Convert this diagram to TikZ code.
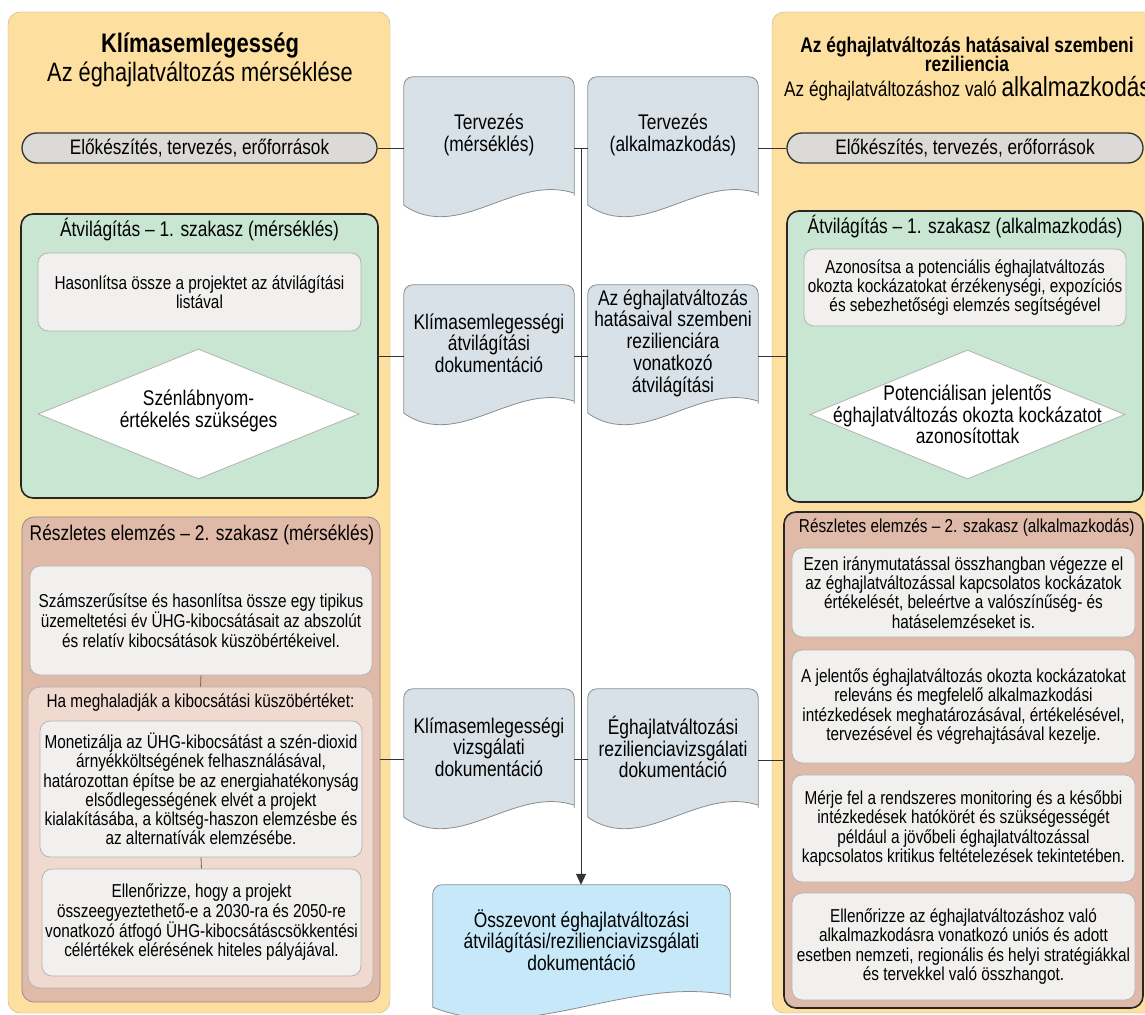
\documentclass[tikz,border=0pt]{standalone}
\usepackage{fontspec}
\setmainfont{Liberation Sans}[FakeStretch=0.82]
\usepackage{tikz}
\usetikzlibrary{arrows.meta,shapes.geometric}
\usetikzlibrary{backgrounds}

\definecolor{panelorange}{RGB}{253,223,160}
\definecolor{panelline}{RGB}{190,175,140}
\definecolor{pillgray}{RGB}{220,218,215}
\definecolor{screengreen}{RGB}{200,230,210}
\definecolor{boxgray}{RGB}{241,240,239}
\definecolor{detailred}{RGB}{224,186,168}
\definecolor{detailpink}{RGB}{240,218,208}
\definecolor{docblue}{RGB}{216,225,232}
\definecolor{finalblue}{RGB}{198,232,248}

\newcommand{\bodyfont}{\fontsize{18.7}{19.2}\selectfont}
\newcommand{\headfont}{\fontsize{21.2}{21.7}\selectfont}

\tikzset{
  panel/.style={draw=panelline, fill=panelorange, rounded corners=12},
  pill/.style={draw=black!80, line width=1.3, fill=pillgray, rounded corners=15,
    minimum height=30, inner sep=0, font=\fontsize{21}{21.5}\selectfont},
  greenbox/.style={draw=black!85, line width=1.6, fill=screengreen, rounded corners=12},
  redbox/.style={draw=black!45, line width=0.8, fill=detailred, rounded corners=12},
  pinkbox/.style={draw=black!30, line width=0.8, fill=detailpink, rounded corners=12},
  graybox/.style={draw=black!30, line width=0.8, fill=boxgray, rounded corners=10,
    align=center, inner sep=1, font=\bodyfont},
  decision/.style={diamond, draw=black!30, line width=0.8, fill=white, inner sep=0},
  doc/.style={align=center, inner sep=1, minimum width=170, minimum height=116, font=\headfont},
  docline/.style={draw=black!45, line width=0.8},
  conn/.style={draw=black!80, line width=1},
  headtxt/.style={align=center, inner sep=0, font=\headfont},
  bodytxt/.style={align=center, inner sep=0, font=\bodyfont},
}

\begin{document}
\begin{tikzpicture}[x=1pt, y=-1pt]

  \useasboundingbox (0,0) rectangle (1145,1014);

  % left column: mitigation
  \draw[panel] (8,12) rectangle (390,1013);
  \node[anchor=base, font=\bfseries\fontsize{26.8}{27}\selectfont] (titleL) at (200,53) {Klímasemlegesség};
  \node[anchor=base, font=\fontsize{26.6}{27}\selectfont] (subL) at (200,82) {Az éghajlatváltozás mérséklése};

  \node[pill, minimum width=355] (pillL) at (199.5,148) {Előkészítés, tervezés, erőforrások};

  \node[greenbox, minimum width=357, minimum height=284] (greenL) at (199.5,356) {};
  \node[headtxt] (greenLt) at (199.5,230) {Átvilágítás – 1. szakasz (mérséklés)};
  \node[graybox, minimum width=323, minimum height=78] (listL) at (199.5,292)
    {Hasonlítsa össze a projektet az átvilágítási\\listával};
  \node[decision, minimum width=321, minimum height=130] (diaL) at (198.5,414) {};
  \node[headtxt] (diaLt) at ([yshift=3pt]diaL.center) {Szénlábnyom-\\értékelés szükséges};

  \node[redbox, minimum width=358, minimum height=485] (redL) at (201,759.5) {};
  \node[headtxt] (redLt) at (202,535) {Részletes elemzés – 2. szakasz (mérséklés)};
  \node[graybox, minimum width=342, minimum height=109] (quantL) at (201,620.5)
    {Számszerűsítse és hasonlítsa össze egy tipikus\\üzemeltetési év ÜHG-kibocsátásait az abszolút\\és relatív kibocsátások küszöbértékeivel.};
  \node[pinkbox, minimum width=345, minimum height=301] (haL) at (200.5,837.5) {};
  \node[bodytxt] (haLt) at (200.5,703) {Ha meghaladják a kibocsátási küszöbértéket:};
  \node[graybox, minimum width=322, minimum height=136] (monL) at (201,789)
    {Monetizálja az ÜHG-kibocsátást a szén-dioxid\\árnyékköltségének felhasználásával,\\határozottan építse be az energiahatékonyság\\elsődlegességének elvét a projekt\\kialakításába, a költség-haszon elemzésbe és\\az alternatívák elemzésébe.};
  \node[graybox, minimum width=319, minimum height=107] (pathL) at (201.5,922.5)
    {Ellenőrizze, hogy a projekt\\összeegyeztethető-e a 2030-ra és 2050-re\\vonatkozó átfogó ÜHG-kibocsátáscsökkentési\\célértékek elérésének hiteles pályájával.};
  \draw[draw=black!60, line width=0.8] (quantL.south) -- (haL.north);
  \draw[draw=black!60, line width=0.8] (monL.south) -- (pathL.north);

  % right column: adaptation
  \draw[panel] (772,12) rectangle (1180,1013);
  \node[anchor=base, font=\bfseries\fontsize{21.2}{22}\selectfont] (titleR) at (967,53) {Az éghajlatváltozás hatásaival szembeni};
  \node[anchor=base, font=\bfseries\fontsize{21.2}{22}\selectfont] (titleR2) at (967,72) {reziliencia};
  \node[anchor=base west, inner sep=0, font=\fontsize{21}{22}\selectfont] (subR) at (784,97)
    {Az éghajlatváltozáshoz való {\fontsize{27.5}{30}\selectfont alkalmazkodás}};

  \node[pill, minimum width=356] (pillR) at (965,148) {Előkészítés, tervezés, erőforrások};

  \node[greenbox, minimum width=356, minimum height=291] (greenR) at (965,356.5) {};
  \node[headtxt] (greenRt) at (965,227) {Átvilágítás – 1. szakasz (alkalmazkodás)};
  \node[graybox, minimum width=322, minimum height=77] (riskR) at (965,287.5)
    {Azonosítsa a potenciális éghajlatváltozás\\okozta kockázatokat érzékenységi, expozíciós\\és sebezhetőségi elemzés segítségével};
  \node[decision, minimum width=315, minimum height=129] (diaR) at (967.5,414.5) {};
  \node[headtxt] (diaRt) at (diaR) {Potenciálisan jelentős\\éghajlatváltozás okozta kockázatot\\azonosítottak};

  \node[redbox, draw=black!85, line width=1.6, minimum width=359, minimum height=496] (redR) at (963.5,760) {};
  \node[bodytxt] (redRt) at (966.7,528) {Részletes elemzés – 2. szakasz (alkalmazkodás)};
  \node[graybox, minimum width=343, minimum height=89] (evalR) at (963.5,592.5)
    {Ezen iránymutatással összhangban végezze el\\az éghajlatváltozással kapcsolatos kockázatok\\értékelését, beleértve a valószínűség- és\\hatáselemzéseket is.};
  \node[graybox, minimum width=343, minimum height=113] (treatR) at (963.5,706.5)
    {A jelentős éghajlatváltozás okozta kockázatokat\\releváns és megfelelő alkalmazkodási\\intézkedések meghatározásával, értékelésével,\\tervezésével és végrehajtásával kezelje.};
  \node[graybox, minimum width=343, minimum height=107] (monR) at (963.5,828.5)
    {Mérje fel a rendszeres monitoring és a későbbi\\intézkedések hatókörét és szükségességét\\például a jövőbeli éghajlatváltozással\\kapcsolatos kritikus feltételezések tekintetében.};
  \node[graybox, minimum width=343, minimum height=107] (stratR) at (963.5,946.5)
    {Ellenőrizze az éghajlatváltozáshoz való\\alkalmazkodásra vonatkozó uniós és adott\\esetben nemzeti, regionális és helyi stratégiákkal\\és tervekkel való összhangot.};

  % documents in the middle
  \node[doc] (docTL) at (489,135) {Tervezés\\(mérséklés)};
  \node[doc] (docTR) at (673,135) {Tervezés\\(alkalmazkodás)};
  \node[doc] (docML) at (489,343) {Klímasemlegességi\\átvilágítási\\dokumentáció};
  \node[doc] (docMR) at (673,343) {Az éghajlatváltozás\\hatásaival szembeni\\rezilienciára\\vonatkozó\\átvilágítási};
  \node[doc] (docBL) at (489,747) {Klímasemlegességi\\vizsgálati\\dokumentáció};
  \node[doc] (docBR) at (673,747) {Éghajlatváltozási\\rezilienciavizsgálati\\dokumentáció};
  \node[doc, minimum width=297, minimum height=110] (final) at (581.5,940)
    {Összevont éghajlatváltozási\\átvilágítási/rezilienciavizsgálati\\dokumentáció};

  \begin{scope}[on background layer]
    \foreach \n/\c/\a/\b in {docTL/docblue/60/55, docTR/docblue/60/55, docML/docblue/60/55,
        docMR/docblue/60/55, docBL/docblue/60/55, docBR/docblue/60/55, final/finalblue/105/95}
      \draw[docline, fill=\c] ([yshift=-12pt]\n.south west) [rounded corners=9] -- (\n.north west)
        -- (\n.north east) -- ([yshift=-8pt]\n.south east) [sharp corners] -- (\n.south east)
        .. controls +(-\a,-20) and +(\b,38) .. ([yshift=-12pt]\n.south west) -- cycle;
  \end{scope}

  % connectors
  \coordinate (hub) at (581,148);
  \draw[conn] (pillL.east) -- (pillL.east -| docTL.west);
  \draw[conn] (docTL.east |- hub) -- (docTR.west |- hub);
  \draw[conn] (docTR.east |- pillR.west) -- (pillR.west);
  \draw[conn] (greenL.east) -- (greenL.east -| docML.west);
  \draw[conn] (docML.east |- greenL.east) -- (docMR.west |- greenL.east);
  \draw[conn] (docMR.east |- greenR.west) -- (greenR.west);
  \draw[conn] (redL.east) -- (redL.east -| docBL.west);
  \draw[conn] (docBL.east |- redL.east) -- (docBR.west |- redL.east);
  \draw[conn] (docBR.east |- redR.west) -- (redR.west);
  \draw[conn, -{Triangle[width=10pt,length=11pt]}] (hub) -- (hub |- final.north);

\end{tikzpicture}
\end{document}
